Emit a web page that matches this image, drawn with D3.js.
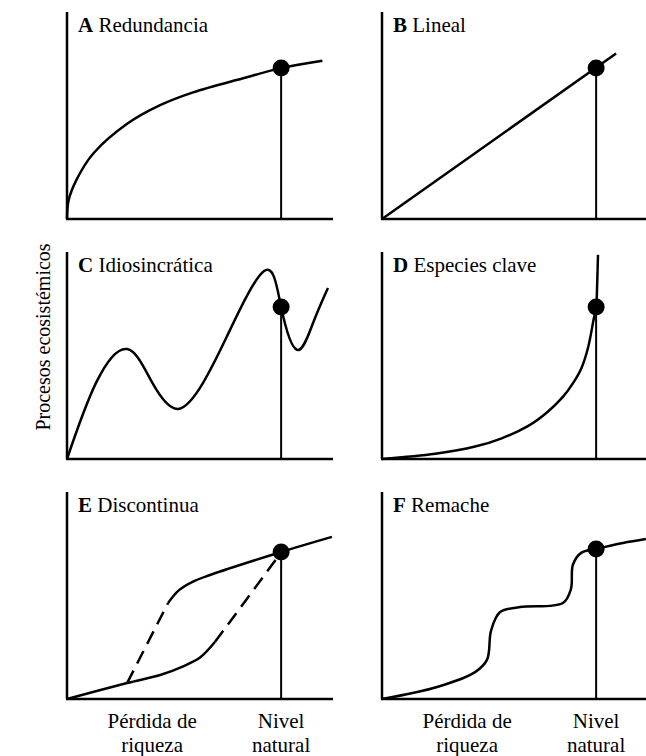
<!DOCTYPE html>
<html>
<head>
<meta charset="utf-8">
<script src="https://cdn.jsdelivr.net/npm/d3@7.9.0/dist/d3.min.js"></script>
<style>
  body { margin: 0; background: #fff; }
  text { font-family: "Liberation Serif", "Times New Roman", Times, serif; fill: #000; }
</style>
</head>
<body>
<div class="container"></div>
<script>
// panel labels
const panelLetters = ["A", "B", "C", "D", "E", "F"];
const panelNames = ["Redundancia", "Lineal", "Idiosincrática", "Especies clave", "Discontinua", "Remache"];
const yAxisLabel = "Procesos ecosistémicos";
const xLabelLoss = ["Pérdida de", "riqueza"];
const xLabelNatural = ["Nivel", "natural"];

// x = species richness (0..1), natural level marked by the dot
const naturalLevel = 0.805;
const lossLabelAt = 0.32;
const dotValues = [0.729, 0.729, 0.734, 0.734, 0.71, 0.725];

// curves, [x, y]
const curveA = [[0, 0], [0.006, 0.09], [0.036, 0.19], [0.098, 0.315], [0.226, 0.46], [0.35, 0.55],
  [0.474, 0.612], [0.662, 0.68], [0.805, 0.729], [0.96, 0.765]];
const curveB = [[0, 0], [0.88, 0.8]];
const curveC = [[0, 0], [0.11, 0.37], [0.226, 0.531], [0.32, 0.37], [0.417, 0.242],
  [0.511, 0.367], [0.6, 0.589], [0.741, 0.908], [0.805, 0.734], [0.865, 0.527],
  [0.925, 0.657], [0.981, 0.826]];
const curveD = [[0, 0], [0.2, 0.025], [0.35, 0.06], [0.45, 0.1], [0.55, 0.16], [0.62, 0.225],
  [0.68, 0.3], [0.72, 0.37], [0.75, 0.44], [0.775, 0.54], [0.795, 0.67], [0.805, 0.734],
  [0.809, 0.85], [0.812, 0.986]];
const curveELower = [[0, 0], [0.226, 0.077], [0.35, 0.116], [0.437, 0.158], [0.5, 0.2], [0.556, 0.275]];
const curveEUpper = [[0.38, 0.464], [0.42, 0.525], [0.47, 0.565], [0.538, 0.599], [0.805, 0.71], [0.996, 0.783]];
const curveEJumpUp = [[0.226, 0.077], [0.38, 0.464]];
const curveEJumpDown = [[0.556, 0.275], [0.795, 0.69]];
const curveF = [[0, 0], [0.207, 0.058], [0.35, 0.13], [0.395, 0.19], [0.41, 0.33],
  [0.444, 0.42], [0.519, 0.444], [0.68, 0.464], [0.71, 0.53], [0.718, 0.65],
  [0.75, 0.707], [0.805, 0.725], [0.906, 0.754], [0.992, 0.773]];

const smooth = d3.curveCatmullRom.alpha(0.5);
const solidCurves = [
  [[curveA, smooth]], [[curveB, d3.curveLinear]], [[curveC, d3.curveNatural]],
  [[curveD, smooth]], [[curveELower, smooth], [curveEUpper, smooth]],
  [[curveF, smooth]]];
const dashedCurves = [[], [], [], [], [curveEJumpUp, curveEJumpDown], []];

const width = 646, height = 756;
const colLeft = [67, 382], panelWidth = 266;
const rowTop = [12, 252, 492], panelHeight = 207;

const svg = d3.select(".container").append("svg")
  .attr("width", width)
  .attr("height", height);

const x = d3.scaleLinear().domain([0, 1]).range([0, panelWidth]);
const y = d3.scaleLinear().domain([0, 1]).range([panelHeight, 0]);

const line = d3.line()
  .x(d => x(d[0]))
  .y(d => y(d[1]));

panelLetters.forEach((letter, i) => {
  const col = i % 2, row = Math.floor(i / 2);
  const g = svg.append("g")
    .attr("transform", `translate(${colLeft[col]},${rowTop[row]})`);

  // axes
  g.append("line").attr("x1", 0).attr("x2", 0).attr("y1", 0).attr("y2", panelHeight)
    .attr("stroke", "#000").attr("stroke-width", 2.5);
  g.append("line").attr("x1", -1).attr("x2", panelWidth).attr("y1", panelHeight).attr("y2", panelHeight)
    .attr("stroke", "#000").attr("stroke-width", 2.5);

  // natural level marker
  g.append("line")
    .attr("x1", x(naturalLevel)).attr("x2", x(naturalLevel))
    .attr("y1", y(0)).attr("y2", y(dotValues[i]))
    .attr("stroke", "#000").attr("stroke-width", 2);

  solidCurves[i].forEach(([c, type]) => {
    g.append("path").datum(c).attr("d", line.curve(type))
      .attr("fill", "none").attr("stroke", "#000").attr("stroke-width", 2.5);
  });
  dashedCurves[i].forEach(c => {
    g.append("path").datum(c).attr("d", line.curve(d3.curveLinear))
      .attr("fill", "none").attr("stroke", "#000").attr("stroke-width", 2.5)
      .attr("stroke-dasharray", "14,8");
  });

  g.append("circle")
    .attr("cx", x(naturalLevel)).attr("cy", y(dotValues[i])).attr("r", 8.5)
    .attr("fill", "#000");

  const title = g.append("text").attr("x", 11).attr("y", 20).style("font-size", "21px");
  title.append("tspan").style("font-weight", "bold").text(letter);
  title.append("tspan").text(" " + panelNames[i]);

  // bottom labels under the last row
  if (row === 2) {
    [[lossLabelAt, xLabelLoss], [naturalLevel, xLabelNatural]].forEach(([pos, lines]) => {
      lines.forEach((t, k) => {
        g.append("text")
          .attr("x", x(pos)).attr("y", panelHeight + 29 + k * 24)
          .attr("text-anchor", "middle")
          .style("font-size", "21px")
          .text(t);
      });
    });
  }
});

svg.append("text")
  .attr("transform", "translate(50,337) rotate(-90)")
  .attr("text-anchor", "middle")
  .style("font-size", "20px")
  .text(yAxisLabel);
</script>
</body>
</html>
